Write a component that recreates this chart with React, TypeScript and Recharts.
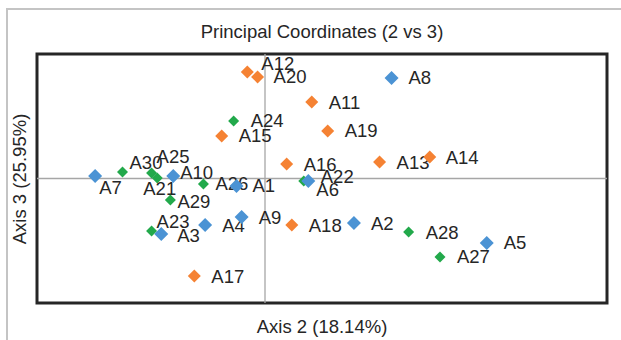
import React from "react";
import {
  ScatterChart,
  Scatter,
  XAxis,
  YAxis,
  ReferenceLine,
  ReferenceArea,
} from "recharts";

// axis 2 / axis 3 scores
const blueNames = ["A1", "A2", "A3", "A4", "A5", "A6", "A7", "A8", "A9", "A10"];
const blueX = [-0.05, 0.156, -0.182, -0.105, 0.389, 0.076, -0.298, 0.222, -0.041, -0.161];
const blueY = [-0.03, -0.179, -0.223, -0.187, -0.259, -0.01, 0.01, 0.404, -0.155, 0.01];

const orangeNames = ["A11", "A12", "A13", "A14", "A15", "A16", "A17", "A18", "A19", "A20"];
const orangeX = [0.082, -0.031, 0.201, 0.289, -0.076, 0.038, -0.124, 0.047, 0.11, -0.013];
const orangeY = [0.307, 0.428, 0.066, 0.086, 0.171, 0.058, -0.392, -0.187, 0.191, 0.408];

const greenNames = ["A21", "A22", "A23", "A24", "A25", "A26", "A27", "A28", "A29", "A30"];
const greenX = [-0.189, 0.068, -0.199, -0.055, -0.199, -0.108, 0.307, 0.252, -0.166, -0.25];
const greenY = [0.002, -0.01, -0.211, 0.231, 0.022, -0.022, -0.315, -0.215, -0.086, 0.026];

// data labels that were dragged away from the default right-hand spot
const labelOffsets: Record<string, [number, number]> = {
  A1: [16, 0],
  A3: [16, 1],
  A6: [8, 9],
  A7: [4, 11],
  A10: [7, -4],
  A12: [14, -8],
  A14: [16, 0],
  A20: [16, 0],
  A21: [-14, 10],
  A22: [17, -4],
  A23: [5, -10],
  A25: [5, -17],
  A26: [12, 0],
  A29: [7, 2],
  A30: [7, -10],
};

const toPoints = (names: string[], xs: number[], ys: number[]) =>
  names.map((name, i) => ({ name, x: xs[i], y: ys[i] }));

const FONT = "'Liberation Sans', Arial, sans-serif";

const diamond = (color: string, r: number) => (props: any) => {
  const { cx, cy, payload } = props;
  const [dx, dy] = labelOffsets[payload.name] || [17, 0];
  return (
    <g>
      <polygon
        points={`${cx},${cy - r} ${cx + r},${cy} ${cx},${cy + r} ${cx - r},${cy}`}
        fill={color}
      />
      <text
        x={cx + dx}
        y={cy + dy}
        dominantBaseline="central"
        fontSize={18.5}
        fontFamily={FONT}
        fill="#262626"
      >
        {payload.name}
      </text>
    </g>
  );
};

export default function App() {
  return (
    <div
      style={{
        position: "absolute",
        left: 0,
        top: 0,
        width: 621,
        height: 340,
        overflow: "hidden",
        background: "#fff",
        fontFamily: FONT,
        color: "#262626",
      }}
    >
      <div
        style={{
          position: "absolute",
          left: 6,
          top: 8,
          width: 700,
          height: 400,
          borderLeft: "2px solid #c4c4c4",
          borderTop: "2px solid #c4c4c4",
        }}
      />
      <div style={{ position: "absolute", left: 0, width: 644, top: 21, textAlign: "center", fontSize: 18.5 }}>
        Principal Coordinates (2 vs 3)
      </div>
      <div style={{ position: "absolute", left: 0, width: 644, top: 316, textAlign: "center", fontSize: 18.5 }}>
        Axis 2 (18.14%)
      </div>
      <div
        style={{
          position: "absolute",
          left: 20,
          top: 179,
          fontSize: 18.5,
          whiteSpace: "nowrap",
          transform: "translate(-50%, -50%) rotate(-90deg)",
        }}
      >
        Axis 3 (25.95%)
      </div>
      <div style={{ position: "absolute", left: 0, top: 0 }}>
        <ScatterChart width={621} height={340} margin={{ top: 54, right: 14, bottom: 37, left: 37 }}>
          <XAxis type="number" dataKey="x" domain={[-0.4, 0.6]} hide />
          <YAxis type="number" dataKey="y" domain={[-0.5, 0.5]} hide />
          <ReferenceLine x={0} stroke="#a6a6a6" strokeWidth={1.3} />
          <ReferenceLine y={0} stroke="#a6a6a6" strokeWidth={1.3} />
          <ReferenceArea x1={-0.4} x2={0.6} y1={-0.5} y2={0.5} fill="none" stroke="#262626" strokeWidth={3} />
          <Scatter data={toPoints(orangeNames, orangeX, orangeY)} shape={diamond("#f58233", 6.5)} isAnimationActive={false} />
          <Scatter data={toPoints(greenNames, greenX, greenY)} shape={diamond("#22a94b", 5.5)} isAnimationActive={false} />
          <Scatter data={toPoints(blueNames, blueX, blueY)} shape={diamond("#4b93d4", 7)} isAnimationActive={false} />
        </ScatterChart>
      </div>
    </div>
  );
}
